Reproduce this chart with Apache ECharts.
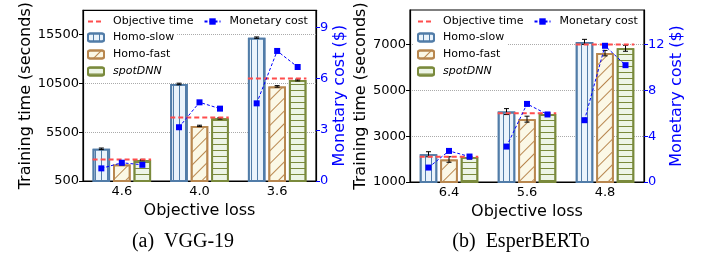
<!DOCTYPE html>
<html>
<head>
<meta charset="utf-8">
<script src="https://cdn.jsdelivr.net/npm/echarts@6/dist/echarts.min.js"></script>
<style>
  html, body { margin: 0; padding: 0; background: #fff; }
  #chart { width: 709px; height: 257px; }
</style>
</head>
<body>
<div id="chart"></div>
<script>
// (a) VGG-19
const lossA = ['4.6', '4.0', '3.6']
const slowA = [3800, 10450, 15200]
const fastA = [2200, 6150, 10200]
const spotA = [2650, 6930, 10850]
const slowErrA = [80, 80, 70]
const fastErrA = [60, 70, 80]
const spotErrA = [70, 80, 90]
const targetA = [2700, 7000, 11000]
const costSlowA = [0.74, 3.15, 4.55]
const costFastA = [1.07, 4.61, 7.62]
const costSpotA = [0.95, 4.24, 6.68]
const timeTicksA = [500, 5500, 10500, 15500]
const costTicksA = [0, 3, 6, 9]

// (b) EsperBERTo
const lossB = ['6.4', '5.6', '4.8']
const slowB = [2210, 4070, 7110]
const fastB = [1980, 3740, 6620]
const spotB = [2090, 3960, 6830]
const slowErrB = [110, 130, 110]
const fastErrB = [120, 130, 120]
const spotErrB = [90, 60, 130]
const targetB = [2100, 4000, 7000]
const costSlowB = [1.26, 3.09, 5.39]
const costFastB = [2.71, 6.81, 11.88]
const costSpotB = [2.22, 5.89, 10.19]
const timeTicksB = [1000, 3000, 5000, 7000]
const costTicksB = [0, 4, 8, 12]

const FONT = 'DejaVu Sans'
const BAR_W = 17.5
const BAR_GAP = 3
const OFF = BAR_W + BAR_GAP
const BLUE = '#0000ff'
const RED = '#ff4d4d'

const styles = {
  'Homo-slow': { color: '#eaf3fb', borderColor: '#517ca8', decal: { rotation: Math.PI / 2, dashArrayY: [1, 5] } },
  'Homo-fast': { color: '#fbf8e6', borderColor: '#b8874f', decal: { rotation: -Math.PI / 4, dashArrayY: [1, 8] } },
  'spotDNN': { color: '#edf5e6', borderColor: '#7a8a3c', decal: { rotation: 0, dashArrayY: [1, 5] } }
}

function barSeries(name, data, p) {
  const s = styles[name]
  return {
    type: 'bar', name: name, data: data,
    xAxisIndex: p, yAxisIndex: p * 2,
    barWidth: BAR_W, barGap: (BAR_GAP / BAR_W * 100) + '%',
    itemStyle: {
      color: s.color, borderColor: s.borderColor, borderWidth: 1.8,
      decal: { symbol: 'rect', symbolSize: 1, dashArrayX: [1, 0], dashArrayY: s.decal.dashArrayY, rotation: s.decal.rotation, color: s.borderColor }
    }
  }
}

function panelSeries(p, slow, fast, spot, errs, target, costs) {
  const errData = []
  ;[slow, fast, spot].forEach((arr, k) => {
    arr.forEach((v, i) => errData.push([i, k, v, errs[k][i]]))
  })
  return [
    barSeries('Homo-slow', slow, p),
    barSeries('Homo-fast', fast, p),
    barSeries('spotDNN', spot, p),
    // error bars
    {
      type: 'custom', xAxisIndex: p, yAxisIndex: p * 2, z: 3,
      encode: { x: 0, y: 2 },
      data: errData,
      renderItem: function(params, api) {
        const i = api.value(0), k = api.value(1), v = api.value(2), e = api.value(3)
        const hi = api.coord([i, v + e]), lo = api.coord([i, v - e])
        const x = hi[0] + (k - 1) * OFF
        const st = { stroke: '#000', lineWidth: 1 }
        return {
          type: 'group', children: [
            { type: 'line', shape: { x1: x, y1: hi[1], x2: x, y2: lo[1] }, style: st },
            { type: 'line', shape: { x1: x - 2.5, y1: hi[1], x2: x + 2.5, y2: hi[1] }, style: st },
            { type: 'line', shape: { x1: x - 2.5, y1: lo[1], x2: x + 2.5, y2: lo[1] }, style: st }
          ]
        }
      }
    },
    // objective time
    {
      type: 'custom', xAxisIndex: p, yAxisIndex: p * 2, z: 4,
      encode: { x: 0, y: 1 },
      data: target.map((v, i) => [i, v]),
      renderItem: function(params, api) {
        const c = api.coord([api.value(0), api.value(1)])
        const half = 1.5 * BAR_W + BAR_GAP
        return {
          type: 'line',
          shape: { x1: c[0] - half, y1: c[1], x2: c[0] + half, y2: c[1] },
          style: { stroke: RED, lineWidth: 2, lineDash: [5, 3] }
        }
      }
    },
    // monetary cost
    {
      type: 'custom', xAxisIndex: p, yAxisIndex: p * 2 + 1, z: 5,
      encode: { x: 0, y: [1, 2, 3] },
      data: costs[0].map((v, i) => [i, costs[0][i], costs[1][i], costs[2][i]]),
      renderItem: function(params, api) {
        const pts = [0, 1, 2].map(k => {
          const c = api.coord([api.value(0), api.value(k + 1)])
          return [c[0] + (k - 1) * OFF, c[1]]
        })
        const children = [{ type: 'polyline', shape: { points: pts }, style: { stroke: BLUE, lineWidth: 1, lineDash: [3, 2], fill: null } }]
        pts.forEach(pt => children.push({ type: 'rect', shape: { x: pt[0] - 3, y: pt[1] - 3, width: 6, height: 6 }, style: { fill: BLUE } }))
        return { type: 'group', children: children }
      }
    },
    // legend only
    { type: 'line', name: 'Objective time', data: [], xAxisIndex: p, yAxisIndex: p * 2, symbol: 'none', lineStyle: { color: RED, width: 2, type: [5, 3] }, itemStyle: { color: RED } },
    { type: 'line', name: 'Monetary cost', data: [], xAxisIndex: p, yAxisIndex: p * 2 + 1, symbol: 'rect', symbolSize: 6, lineStyle: { color: BLUE, width: 1, type: [3, 2] }, itemStyle: { color: BLUE } }
  ]
}

const plain = v => String(v)

function xAxisOf(p, cats) {
  return {
    type: 'category', gridIndex: p, data: cats,
    name: 'Objective loss', nameLocation: 'middle', nameGap: 15,
    nameTextStyle: { fontFamily: FONT, fontSize: 16, color: '#000' },
    axisLine: { lineStyle: { color: '#000', width: 1.2 } },
    axisTick: { alignWithLabel: true, length: 4, lineStyle: { color: '#000' } },
    axisLabel: { fontFamily: FONT, fontSize: 13, color: '#000', margin: 4 }
  }
}

function timeAxisOf(p, min, max, ticks, gap) {
  return {
    type: 'value', gridIndex: p, min: min, max: max, position: 'left',
    name: 'Training time (seconds)', nameLocation: 'middle', nameGap: gap, nameRotate: 90,
    nameTextStyle: { fontFamily: FONT, fontSize: 16, color: '#000' },
    axisLine: { show: true, lineStyle: { color: '#000', width: 1.2 } },
    axisTick: { show: true, length: 4, customValues: ticks, lineStyle: { color: '#000' } },
    axisLabel: { fontFamily: FONT, fontSize: 13, color: '#000', margin: 4, customValues: ticks, formatter: plain },
    splitLine: { show: true, lineStyle: { type: 'dotted', color: '#aaaaaa', width: 1 } }
  }
}

function costAxisOf(p, min, max, ticks, gap) {
  return {
    type: 'value', gridIndex: p, min: min, max: max, position: 'right',
    name: 'Monetary cost ($)', nameLocation: 'middle', nameGap: gap, nameRotate: 90,
    nameTextStyle: { fontFamily: FONT, fontSize: 16, color: BLUE },
    axisLine: { show: true, lineStyle: { color: '#000', width: 1.2 } },
    axisTick: { show: true, length: 4, customValues: ticks, lineStyle: { color: BLUE } },
    axisLabel: { fontFamily: FONT, fontSize: 13, color: BLUE, margin: 4, customValues: ticks, formatter: plain },
    splitLine: { show: false }
  }
}

function legendsOf(left) {
  const ts = { fontFamily: FONT, fontSize: 11, color: '#000', padding: [0, 0, 0, 4] }
  return [
    {
      data: [{ name: 'Objective time', itemStyle: { opacity: 0 } }, 'Monetary cost'], left: left, top: 16,
      orient: 'horizontal', itemWidth: 16, itemHeight: 8, itemGap: 10, padding: 0,
      textStyle: ts
    },
    {
      data: ['Homo-slow', 'Homo-fast', { name: 'spotDNN', textStyle: { fontStyle: 'italic' } }],
      left: left - 3, top: 30, orient: 'vertical', itemWidth: 16, itemHeight: 8, itemGap: 6,
      padding: [2, 3, 2, 3], backgroundColor: '#fff', textStyle: ts
    }
  ]
}

const chart = echarts.init(document.getElementById('chart'), null, { renderer: 'canvas' })

chart.setOption({
  animation: false,
  grid: [
    { left: 83, right: 393, top: 10, bottom: 76, show: true, borderColor: '#000', borderWidth: 1.2 },
    { left: 410, right: 65, top: 10, bottom: 75, show: true, borderColor: '#000', borderWidth: 1.2 }
  ],
  legend: legendsOf(87).concat(legendsOf(417)),
  xAxis: [xAxisOf(0, lossA), xAxisOf(1, lossB)],
  yAxis: [
    timeAxisOf(0, 500, 18000, timeTicksA, 46),
    costAxisOf(0, 0, 10, costTicksA, 16),
    timeAxisOf(1, 1000, 8500, timeTicksB, 36),
    costAxisOf(1, 0, 15, costTicksB, 24)
  ],
  series: panelSeries(0, slowA, fastA, spotA, [slowErrA, fastErrA, spotErrA], targetA, [costSlowA, costFastA, costSpotA])
    .concat(panelSeries(1, slowB, fastB, spotB, [slowErrB, fastErrB, spotErrB], targetB, [costSlowB, costFastB, costSpotB])),
  graphic: [
    { type: 'text', x: 183, y: 242, style: { text: '(a)  VGG-19', font: '20px "Liberation Serif"', fill: '#000', align: 'center', verticalAlign: 'middle' } },
    { type: 'text', x: 521, y: 242, style: { text: '(b)  EsperBERTo', font: '20px "Liberation Serif"', fill: '#000', align: 'center', verticalAlign: 'middle' } }
  ]
})
</script>
</body>
</html>
